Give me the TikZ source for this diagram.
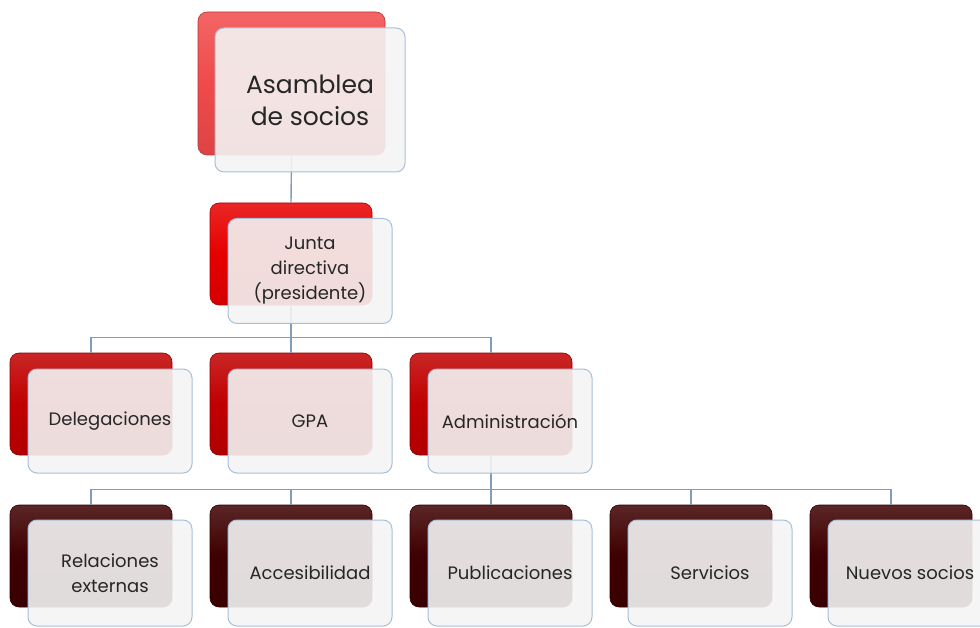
\documentclass[tikz,border=0pt]{standalone}
\usepackage{fontspec}
\setmainfont{Poppins}
\definecolor{lnk}{HTML}{7F9DB9}
\definecolor{frontfill}{HTML}{F4F4F4}
\definecolor{frontedge}{HTML}{A7C0D8}
\definecolor{lvA}{HTML}{F04A4A}
\definecolor{lvB}{HTML}{E60000}
\definecolor{lvC}{HTML}{C00000}
\definecolor{lvD}{HTML}{3E0000}
\tikzset{
  backbox/.style={rounded corners=9pt, minimum width=162pt, minimum height=102pt, inner sep=0pt, draw=#1!75!black, line width=0.6pt, top color=#1!85!white, bottom color=#1!92!black, middle color=#1},
  frontbox/.style={rounded corners=9pt, minimum width=164pt, minimum height=104pt, inner sep=2pt, draw=frontedge, line width=1pt, fill=frontfill, fill opacity=0.9, text opacity=1, align=center, font=\fontsize{18}{25}\selectfont, text=black!85},
  conn/.style={draw=lnk, line width=1.4pt}
}
\begin{document}
\begin{tikzpicture}[x=1pt,y=-1pt]
\useasboundingbox (0,0) rectangle (980,628);
\clip (0,0) rectangle (980,628);
% back boxes
\node[backbox=lvA, minimum width=187pt, minimum height=143pt] (b0) at (291.5,83.5) {};
\node[backbox=lvB] (b1) at (291,254) {};
\node[backbox=lvC] (b2) at (91,404) {};
\node[backbox=lvC] (b3) at (291,404) {};
\node[backbox=lvC] (b4) at (491,404) {};
\node[backbox=lvD] (b5) at (91,556) {};
\node[backbox=lvD] (b6) at (291,556) {};
\node[backbox=lvD] (b7) at (491,556) {};
\node[backbox=lvD] (b8) at (691,556) {};
\node[backbox=lvD] (b9) at (891,556) {};
% connectors
\draw[conn] (b0.south) -- (b1.north);
\draw[conn] (b1.south) -- ++(0,32) -| (b2.north);
\draw[conn] (b1.south) -- (b3.north);
\draw[conn] (b1.south) -- ++(0,32) -| (b4.north);
\draw[conn] (b4.south) -- ++(0,34) -| (b5.north);
\draw[conn] (b4.south) -- ++(0,34) -| (b6.north);
\draw[conn] (b4.south) -- (b7.north);
\draw[conn] (b4.south) -- ++(0,34) -| (b8.north);
\draw[conn] (b4.south) -- ++(0,34) -| (b9.north);
% front boxes
\node[frontbox, minimum width=190pt, minimum height=144pt, font=\fontsize{25}{32}\selectfont] (f0) at (310,100) {Asamblea\\de socios};
\node[frontbox, minimum height=105pt] (f1) at (310,271) {Junta\\directiva\\(presidente)};
\node[frontbox] (f2) at (110,421) {Delegaciones};
\node[frontbox] (f3) at (310,421) {GPA};
\node[frontbox] (f4) at (510,421) {Administración};
\node[frontbox, minimum height=106pt] (f5) at (110,573) {Relaciones\\externas};
\node[frontbox, minimum height=106pt] (f6) at (310,573) {Accesibilidad};
\node[frontbox, minimum height=106pt] (f7) at (510,573) {Publicaciones};
\node[frontbox, minimum height=106pt] (f8) at (710,573) {Servicios};
\node[frontbox, minimum height=106pt] (f9) at (910,573) {Nuevos socios};
\end{tikzpicture}
\end{document}
